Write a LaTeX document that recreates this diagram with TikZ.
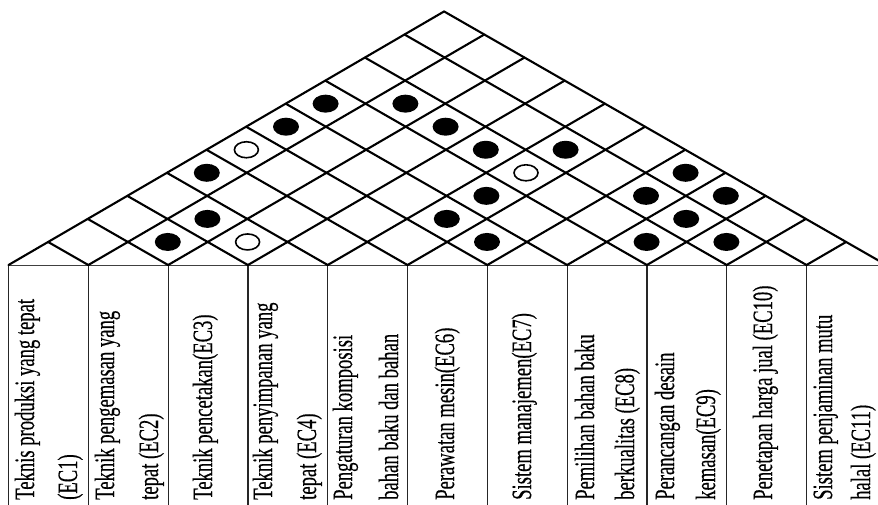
\documentclass[tikz,border=0pt]{standalone}
\usepackage{fontspec}
\usepackage{graphicx}
\setmainfont{Liberation Serif}[FakeBold=0.4]
\usetikzlibrary{shapes.geometric}
\tikzset{
  roofline/.style={line width=2.1pt, black, line cap=round},
  colline/.style={line width=1.2pt, black!85},
  baseln/.style={line width=1pt, black!75},
  bdot/.style={ellipse, fill=black, draw=none, inner sep=0pt, minimum width=26pt, minimum height=18pt},
  odot/.style={ellipse, fill=white, draw=black, line width=1.6pt, inner sep=0pt, minimum width=24pt, minimum height=16pt},
  lbl/.style={rotate=90, anchor=base west, inner sep=0pt, font=\fontsize{28}{30}\selectfont}
}
\newcommand{\sq}[1]{\scalebox{0.665}[1]{#1}}
\begin{document}
\begin{tikzpicture}[x=1pt,y=-1pt]
\path[use as bounding box, clip] (0,0) rectangle (878,504);
\fill[white] (0,0) rectangle (878,504);
% column boxes
\foreach \k in {0,...,11}{
  \draw[colline] ({8.5+79.8*\k},265) -- ({8.5+79.8*\k},520);
}
\draw[baseln] (8.5,265) -- (886.3,265);
% roof lattice
\begin{scope}[shift={(8.5,265)}, x={(39.6pt,23.05pt)}, y={(-40.2pt,23.05pt)}]
  \foreach \k in {0,...,10}{ \draw[roofline] (\k,-\k) -- (11,-\k); }
  \foreach \k in {1,...,11}{ \draw[roofline] (\k,-\k) -- (\k,0); }
  % strong correlations
  \foreach \i/\j in {1/8,2/9,1/7,1/5,2/4,2/3,3/9,5/7,4/9,5/10,5/8,6/7,7/11,7/10,8/11,8/10,8/9,9/10}{
    \node[bdot] (b\i-\j) at ({\j-0.5},{-\i+0.5}) {};
  }
  % medium correlations
  \foreach \i/\j in {1/6,3/4,5/9}{
    \node[odot] (o\i-\j) at ({\j-0.5},{-\i+0.5}) {};
  }
\end{scope}
% column labels
\node[lbl] (t1a) at (34,500) {\sq{Teknis produksi yang tepat}};
\node[lbl] (t1b) at (77,500) {\sq{(EC1)}};
\node[lbl] (t2a) at (114,500) {\sq{Teknik pengemasan yang}};
\node[lbl] (t2b) at (158,500) {\sq{tepat (EC2)}};
\node[lbl] (t3a) at (212,500) {\sq{Teknik pencetakan(EC3)}};
\node[lbl] (t4a) at (272,500) {\sq{Teknik penyimpanan yang}};
\node[lbl] (t4b) at (316,500) {\sq{tepat (EC4)}};
\node[lbl] (t5a) at (352,500) {\sq{Pengaturan komposisi}};
\node[lbl] (t5b) at (398,500) {\sq{bahan baku dan bahan}};
\node[lbl] (t6a) at (454,500) {\sq{Perawatan mesin(EC6)}};
\node[lbl] (t7a) at (531,500) {\sq{Sistem manajemen(EC7)}};
\node[lbl] (t8a) at (594,500) {\sq{Pemilihan bahan baku}};
\node[lbl] (t8b) at (634,500) {\sq{berkualitas (EC8)}};
\node[lbl] (t9a) at (674,500) {\sq{Perancangan desain}};
\node[lbl] (t9b) at (715,500) {\sq{kemasan(EC9)}};
\node[lbl] (t10a) at (772,500) {\sq{Penetapan harga jual (EC10)}};
\node[lbl] (t11a) at (832,500) {\sq{Sistem penjaminan mutu}};
\node[lbl] (t11b) at (870,500) {\sq{halal (EC11)}};
\end{tikzpicture}
\end{document}
